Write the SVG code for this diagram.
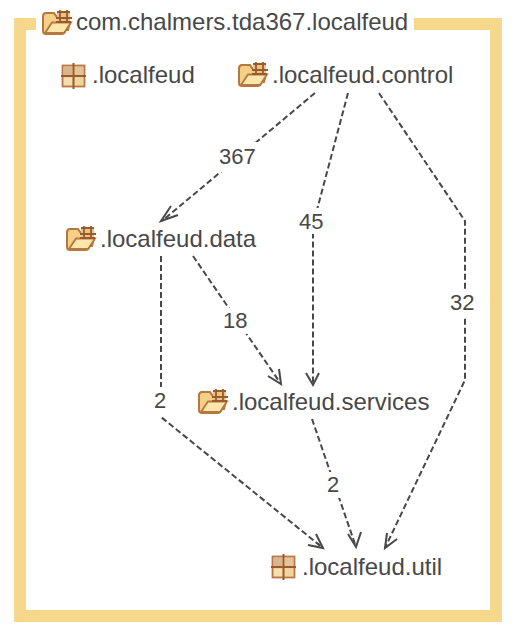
<svg xmlns="http://www.w3.org/2000/svg" width="518" height="642" viewBox="0 0 518 642">
<style>
.l{font-family:"Liberation Sans",Arial,sans-serif;font-size:24px;fill:#484848}
.e{font-family:"Liberation Sans",Arial,sans-serif;font-size:22px;fill:#484848}
.c{fill:none;stroke:#484848;stroke-width:2;stroke-dasharray:6 3}
.h{fill:none;stroke:#484848;stroke-width:2}
</style>
<defs>
<g id="pk">
<rect x="1.500" y="2.500" width="22" height="21" fill="#ecd2a2" stroke="#b97848" stroke-width="1.800"/>
<rect x="3" y="4" width="8" height="8" fill="#d9b68d"/><rect x="14" y="4" width="8" height="8" fill="#e3c49a"/>
<rect x="3" y="15" width="8" height="7" fill="#f4dfae"/><rect x="14" y="15" width="8" height="7" fill="#f0d5a0"/>
<path d="M0 13H25M12.500 0V26" stroke="#9c5a2a" stroke-width="2" fill="none"/>
</g>
<g id="fo">
<path d="M1 21V6.500Q1 3 4 3H12L14 6H16V12H28L26 20H24Q22 24 20 24H4Q1 24 1 21Z" fill="#f3cf88" stroke="#b5783f" stroke-width="2"/>
<path d="M3 23L10 12.500H29L22 23Z" fill="#fbe6ad" stroke="#b5783f" stroke-width="1.800"/>
<path d="M15 2H28V12H15Z" fill="#e6c48e"/>
<path d="M14 8H30M15 2H28M18 0V12M25 0V12M14 12H29" stroke="#9c5a2a" stroke-width="1.800" fill="none"/>
</g>
</defs>
<g id="package-frame">
<path d="M36 24H20V616H496V24H414" fill="none" stroke="#f6d78c" stroke-width="12"/>
<use href="#fo" x="42" y="10"/>
<text class="l" x="76" y="30">com.chalmers.tda367.localfeud</text>
</g>
<g id="connectors">
<path class="c" d="M315 93L162 221"/><path class="h" d="M171 206L161 221L178 215"/>
<path class="c" d="M348 93L313 225V385"/><path class="h" d="M306 373L313 385L319 373"/>
<path class="c" d="M379 93L465 221V380L385 548"/><path class="h" d="M387 533L385 548L397 539"/>
<path class="c" d="M161 256V417L323 548"/><path class="h" d="M308 545L323 548L316 534"/>
<path class="c" d="M193 256L281 384"/><path class="h" d="M268 376L281 384L279 369"/>
<path class="c" d="M312 419L356 547"/><path class="h" d="M348 534L356 547L361 532"/>
</g>
<g id="edge-labels">
<rect x="216" y="142" width="42" height="30" fill="#fff"/><text class="e" x="219" y="164">367</text>
<rect x="296" y="208" width="30" height="26" fill="#fff"/><text class="e" x="299" y="229">45</text>
<rect x="447" y="290" width="30" height="26" fill="#fff"/><text class="e" x="450" y="310">32</text>
<rect x="220" y="308" width="30" height="26" fill="#fff"/><text class="e" x="223" y="328">18</text>
<rect x="150" y="387" width="20" height="28" fill="#fff"/><text class="e" x="154" y="408">2</text>
<rect x="324" y="472" width="18" height="26" fill="#fff"/><text class="e" x="327" y="492">2</text>
</g>
<g id="node-root"><use href="#pk" x="61" y="63"/><text class="l" x="92" y="83">.localfeud</text></g>
<g id="node-control"><use href="#fo" x="238" y="62"/><text class="l" x="272" y="83">.localfeud.control</text></g>
<g id="node-data"><use href="#fo" x="66" y="226"/><text class="l" x="100" y="247">.localfeud.data</text></g>
<g id="node-services"><use href="#fo" x="198" y="389"/><text class="l" x="232" y="410">.localfeud.services</text></g>
<g id="node-util"><use href="#pk" x="271" y="554"/><text class="l" x="302" y="575">.localfeud.util</text></g>
</svg>
